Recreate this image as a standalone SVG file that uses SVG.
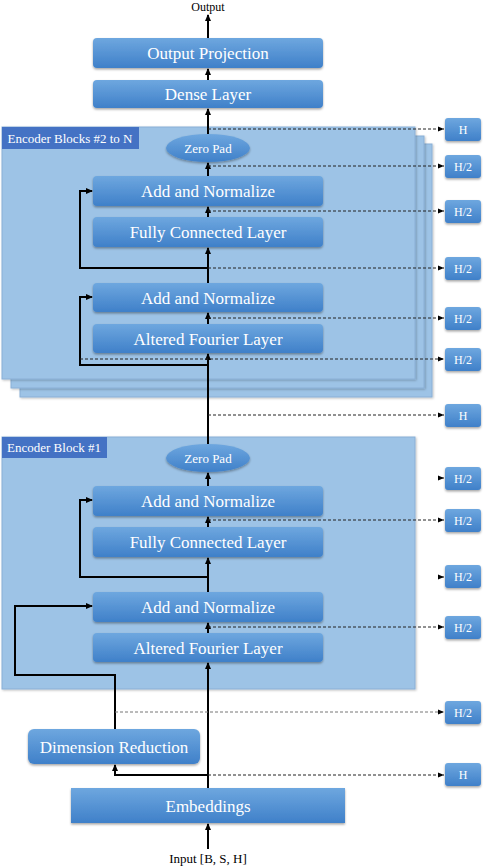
<svg xmlns="http://www.w3.org/2000/svg" width="484" height="868" viewBox="0 0 484 868">
<style>
.panel{fill:#9DC3E6;stroke:#8AAFD6;stroke-width:1}
.lbl{fill:#4472C4}
.box{fill:url(#g);filter:url(#sh)}
text{font-family:'Liberation Serif','DejaVu Serif',serif}
.t{fill:#fff;text-anchor:middle}
.big{font-size:17px}
.sm{font-size:12px}
.hd{font-size:13px}
.zp{font-size:13px}
.k{fill:#000;text-anchor:middle;font-size:13px}
.arr{stroke:#000;stroke-width:2;fill:none;marker-end:url(#a)}
.res{stroke:#000;stroke-width:2;fill:none;marker-end:url(#a)}
.d{stroke:#222;stroke-width:1;stroke-dasharray:3 2;fill:none;marker-end:url(#s)}
.dg{stroke:#777;stroke-width:1;stroke-dasharray:3 2;fill:none;marker-end:url(#s)}
</style>
<defs>
<linearGradient id="g" x1="0" y1="0" x2="0" y2="1">
<stop offset="0" stop-color="#6EA7DF"/>
<stop offset="1" stop-color="#3F80C9"/>
</linearGradient>
<filter id="sh" x="-10%" y="-20%" width="120%" height="150%">
<feDropShadow dx="0" dy="1.5" stdDeviation="1" flood-color="#000" flood-opacity="0.35"/>
</filter>
<filter id="psh" x="-5%" y="-5%" width="110%" height="110%">
<feDropShadow dx="1" dy="1" stdDeviation="1" flood-color="#000" flood-opacity="0.25"/>
</filter>
<marker id="a" markerUnits="userSpaceOnUse" markerWidth="8" markerHeight="8" refX="6" refY="4" orient="auto">
<path d="M0,1 L7,4 L0,7 Z" fill="#000"/>
</marker>
<marker id="s" markerUnits="userSpaceOnUse" markerWidth="8" markerHeight="8" refX="6" refY="4" orient="auto">
<path d="M0,1.5 L6,4 L0,6.5 Z" fill="#000"/>
</marker>
</defs>

<g id="panels">
<rect class="panel" x="20" y="144" width="412" height="253" filter="url(#psh)"/>
<rect class="panel" x="11" y="136" width="413" height="252" filter="url(#psh)"/>
<rect class="panel" x="2" y="127" width="413" height="252" filter="url(#psh)"/>
<rect class="lbl" x="2" y="127" width="137" height="22"/>
<text class="t hd" x="70" y="142.5">Encoder Blocks #2 to N</text>
<rect class="panel" x="2" y="437" width="413" height="252" filter="url(#psh)"/>
<rect class="lbl" x="2" y="437" width="105" height="21"/>
<text class="t hd" x="54" y="452">Encoder Block #1</text>
</g>

<g id="connectors">
<line class="arr" x1="208" y1="38" x2="208" y2="15"/>
<line class="arr" x1="208" y1="80" x2="208" y2="69"/>
<line class="arr" x1="208" y1="134" x2="208" y2="109"/>
<line class="arr" x1="208" y1="176" x2="208" y2="163"/>
<line class="arr" x1="208" y1="217" x2="208" y2="207"/>
<line class="arr" x1="208" y1="283" x2="208" y2="248"/>
<line class="arr" x1="208" y1="324" x2="208" y2="313"/>
<line class="arr" x1="208" y1="444" x2="208" y2="354"/>
<line class="arr" x1="208" y1="486" x2="208" y2="473"/>
<line class="arr" x1="208" y1="527" x2="208" y2="517"/>
<line class="arr" x1="208" y1="592" x2="208" y2="558"/>
<line class="arr" x1="208" y1="633" x2="208" y2="623"/>
<line class="arr" x1="208" y1="788" x2="208" y2="663"/>
<line class="arr" x1="208" y1="849" x2="208" y2="824"/>
<path class="res" d="M208,268 H80 V191 H92"/>
<path class="res" d="M208,365 H80 V297 H92"/>
<path class="res" d="M208,577 H80 V500 H92"/>
<path class="res" d="M115,729 V675 H15 V606 H92"/>
<path class="res" d="M208,775 H115 V765"/>
<line class="d" x1="208" y1="129" x2="444" y2="129"/>
<line class="d" x1="208" y1="166" x2="444" y2="166"/>
<line class="d" x1="208" y1="211" x2="444" y2="211"/>
<line class="d" x1="208" y1="268" x2="444" y2="268"/>
<line class="d" x1="208" y1="318" x2="444" y2="318"/>
<line class="d" x1="80" y1="359" x2="444" y2="359"/>
<line class="d" x1="208" y1="415" x2="444" y2="415"/>
<line class="d" x1="441" y1="478" x2="444" y2="478"/>
<line class="d" x1="208" y1="520" x2="444" y2="520"/>
<line class="d" x1="441" y1="577" x2="444" y2="577"/>
<line class="d" x1="208" y1="627" x2="444" y2="627"/>
<line class="dg" x1="115" y1="712" x2="444" y2="712"/>
<line class="d" x1="208" y1="775" x2="444" y2="775"/>
</g>

<g id="output"><text class="k" x="208" y="11" style="font-size:12px">Output</text></g>
<g id="outproj"><rect class="box" x="93" y="38" width="230" height="30" rx="4"/><text class="t big" x="208" y="59">Output Projection</text></g>
<g id="dense"><rect class="box" x="93" y="80" width="230" height="28" rx="4"/><text class="t big" x="208" y="100">Dense Layer</text></g>

<g id="zeropad2"><ellipse cx="208" cy="148" rx="42" ry="14" fill="url(#g)" filter="url(#sh)"/><text class="t zp" x="208" y="152.5">Zero Pad</text></g>
<g id="addnorm2a"><rect class="box" x="93" y="176" width="230" height="30" rx="4"/><text class="t big" x="208" y="197">Add and Normalize</text></g>
<g id="fc2"><rect class="box" x="93" y="217" width="230" height="30" rx="4"/><text class="t big" x="208" y="238">Fully Connected Layer</text></g>
<g id="addnorm2b"><rect class="box" x="93" y="283" width="230" height="29" rx="4"/><text class="t big" x="208" y="303.5">Add and Normalize</text></g>
<g id="afl2"><rect class="box" x="93" y="324" width="230" height="29" rx="4"/><text class="t big" x="208" y="344.5">Altered Fourier Layer</text></g>

<g id="zeropad1"><ellipse cx="208" cy="458" rx="42" ry="14" fill="url(#g)" filter="url(#sh)"/><text class="t zp" x="208" y="462.5">Zero Pad</text></g>
<g id="addnorm1a"><rect class="box" x="93" y="486" width="230" height="30" rx="4"/><text class="t big" x="208" y="507">Add and Normalize</text></g>
<g id="fc1"><rect class="box" x="93" y="527" width="230" height="30" rx="4"/><text class="t big" x="208" y="548">Fully Connected Layer</text></g>
<g id="addnorm1b"><rect class="box" x="93" y="592" width="230" height="30" rx="4"/><text class="t big" x="208" y="613">Add and Normalize</text></g>
<g id="afl1"><rect class="box" x="93" y="633" width="230" height="29" rx="4"/><text class="t big" x="208" y="653.5">Altered Fourier Layer</text></g>

<g id="dimred"><rect class="box" x="28" y="729" width="172" height="35" rx="6"/><text class="t big" x="114" y="752.5">Dimension Reduction</text></g>
<g id="embeddings"><rect class="box" x="71" y="788" width="274" height="35"/><text class="t big" x="208" y="811.5">Embeddings</text></g>
<g id="input"><text class="k" x="208" y="863">Input [B, S, H]</text></g>

<g id="dims">
<g id="d1"><rect class="box" x="445" y="118" width="36" height="23" rx="3"/><text class="t sm" x="463" y="134">H</text></g>
<g id="d2"><rect class="box" x="445" y="155" width="36" height="23" rx="3"/><text class="t sm" x="463" y="171">H/2</text></g>
<g id="d3"><rect class="box" x="445" y="200" width="36" height="23" rx="3"/><text class="t sm" x="463" y="216">H/2</text></g>
<g id="d4"><rect class="box" x="445" y="257" width="36" height="23" rx="3"/><text class="t sm" x="463" y="273">H/2</text></g>
<g id="d5"><rect class="box" x="445" y="307" width="36" height="23" rx="3"/><text class="t sm" x="463" y="323">H/2</text></g>
<g id="d6"><rect class="box" x="445" y="348" width="36" height="23" rx="3"/><text class="t sm" x="463" y="364">H/2</text></g>
<g id="d7"><rect class="box" x="445" y="404" width="36" height="23" rx="3"/><text class="t sm" x="463" y="420">H</text></g>
<g id="d8"><rect class="box" x="445" y="467" width="36" height="23" rx="3"/><text class="t sm" x="463" y="483">H/2</text></g>
<g id="d9"><rect class="box" x="445" y="509" width="36" height="23" rx="3"/><text class="t sm" x="463" y="525">H/2</text></g>
<g id="d10"><rect class="box" x="445" y="565" width="36" height="23" rx="3"/><text class="t sm" x="463" y="581">H/2</text></g>
<g id="d11"><rect class="box" x="445" y="616" width="36" height="23" rx="3"/><text class="t sm" x="463" y="632">H/2</text></g>
<g id="d12"><rect class="box" x="445" y="701" width="36" height="23" rx="3"/><text class="t sm" x="463" y="717">H/2</text></g>
<g id="d13"><rect class="box" x="445" y="763" width="36" height="23" rx="3"/><text class="t sm" x="463" y="779">H</text></g>
</g>
</svg>
